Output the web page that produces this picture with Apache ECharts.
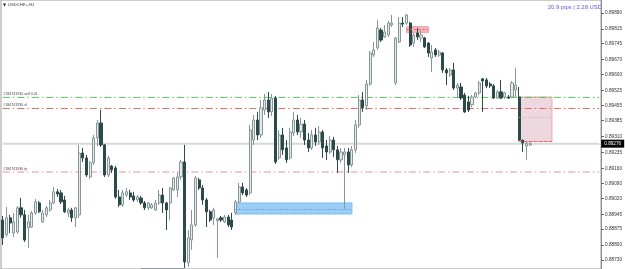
<!DOCTYPE html>
<html>
<head>
<meta charset="utf-8">
<script src="https://cdn.jsdelivr.net/npm/echarts@6/dist/echarts.min.js"></script>
<style>
  html, body { margin: 0; padding: 0; background: #fff; }
  #chart { width: 625px; height: 269px; }
</style>
</head>
<body>
<div id="chart"></div>
<script>
// USDCHF+ H1, values
const symbolTitle = 'USDCHF+,H1'
const resultText = '20.9 pips | 2.28 USD'
const slotCount = 165 // bars + empty shift space on the right
const categories = Array.from({ length: slotCount }, (_, i) => 'bar ' + (i + 1))

const opens = [
  0.88918, 0.88848, 0.88928, 0.88857, 0.88862, 0.88975, 0.88942, 0.88881, 0.88885, 0.88951,
  0.88998, 0.88909, 0.88942, 0.88965, 0.88998, 0.89050, 0.89045, 0.89012, 0.88951, 0.88965,
  0.88928, 0.88942, 0.89232, 0.89209, 0.89120, 0.89186, 0.89303, 0.89373, 0.89270, 0.89129,
  0.89171, 0.89162, 0.89026, 0.88989, 0.89035, 0.89045, 0.89031, 0.89012, 0.89021, 0.88998,
  0.88975, 0.88975, 0.88965, 0.88998, 0.89035, 0.88998, 0.88998, 0.89059, 0.89059, 0.89120,
  0.89190, 0.88717, 0.88824, 0.88895, 0.89106, 0.89068, 0.89012, 0.88956, 0.88928, 0.88914,
  0.88928, 0.88909, 0.88932, 0.88918, 0.88951, 0.89003, 0.89073, 0.89059, 0.89045, 0.89293,
  0.89387, 0.89317, 0.89434, 0.89481, 0.89425, 0.89490, 0.89209, 0.89317, 0.89256, 0.89209,
  0.89326, 0.89387, 0.89331, 0.89368, 0.89293, 0.89256, 0.89317, 0.89284, 0.89331, 0.89265,
  0.89237, 0.89293, 0.89247, 0.89200, 0.89223, 0.89237, 0.89176, 0.89247, 0.89364, 0.89481,
  0.89453, 0.89556, 0.89692, 0.89725, 0.89809, 0.89777, 0.89786, 0.89833, 0.89561, 0.89753,
  0.89842, 0.89842, 0.89842, 0.89748, 0.89795, 0.89772, 0.89772, 0.89748, 0.89678, 0.89716,
  0.89692, 0.89701, 0.89622, 0.89598, 0.89622, 0.89537, 0.89542, 0.89504, 0.89472, 0.89458,
  0.89495, 0.89514, 0.89580, 0.89575, 0.89556, 0.89547, 0.89490, 0.89519, 0.89495, 0.89495,
  0.89495, 0.89528, 0.89495, 0.89293, 0.89265, 0.89270
]
const closes = [
  0.88834, 0.88928, 0.88904, 0.88909, 0.88975, 0.88942, 0.88824, 0.88909, 0.88951, 0.89003,
  0.88956, 0.88951, 0.88975, 0.88998, 0.89050, 0.89040, 0.89003, 0.88956, 0.88965, 0.88928,
  0.88975, 0.89232, 0.89209, 0.89129, 0.89186, 0.89303, 0.89373, 0.89270, 0.89129, 0.89209,
  0.89153, 0.89026, 0.88989, 0.89045, 0.89050, 0.89026, 0.89012, 0.89026, 0.88998, 0.88975,
  0.88998, 0.88989, 0.88998, 0.89035, 0.88998, 0.88965, 0.89068, 0.89115, 0.89120, 0.89190,
  0.88721, 0.88834, 0.88895, 0.89115, 0.89068, 0.89012, 0.88956, 0.88918, 0.88965, 0.88923,
  0.88918, 0.88932, 0.88895, 0.88885, 0.89003, 0.89073, 0.89045, 0.89035, 0.89340, 0.89387,
  0.89317, 0.89444, 0.89481, 0.89425, 0.89490, 0.89190, 0.89317, 0.89247, 0.89200, 0.89331,
  0.89387, 0.89331, 0.89368, 0.89293, 0.89256, 0.89317, 0.89284, 0.89331, 0.89256, 0.89237,
  0.89293, 0.89247, 0.89200, 0.89237, 0.89237, 0.89176, 0.89247, 0.89364, 0.89481, 0.89444,
  0.89556, 0.89701, 0.89716, 0.89819, 0.89762, 0.89800, 0.89842, 0.89842, 0.89772, 0.89842,
  0.89837, 0.89880, 0.89739, 0.89786, 0.89777, 0.89786, 0.89730, 0.89701, 0.89706, 0.89692,
  0.89706, 0.89622, 0.89608, 0.89622, 0.89537, 0.89551, 0.89490, 0.89425, 0.89434, 0.89495,
  0.89514, 0.89561, 0.89570, 0.89547, 0.89547, 0.89490, 0.89519, 0.89490, 0.89514, 0.89490,
  0.89561, 0.89551, 0.89293, 0.89279, 0.89279, 0.89276
]
const lows = [
  0.88801, 0.88839, 0.88857, 0.88839, 0.88853, 0.88928, 0.88815, 0.88787, 0.88881, 0.88942,
  0.88951, 0.88904, 0.88932, 0.88956, 0.88993, 0.89026, 0.88993, 0.88951, 0.88932, 0.88909,
  0.88885, 0.88928, 0.89190, 0.89120, 0.89111, 0.89176, 0.89265, 0.89261, 0.89120, 0.89120,
  0.89139, 0.89017, 0.88979, 0.88979, 0.89026, 0.89012, 0.89003, 0.89003, 0.88989, 0.88965,
  0.88965, 0.88970, 0.88960, 0.88989, 0.88951, 0.88871, 0.88918, 0.89054, 0.89026, 0.89106,
  0.88693, 0.88698, 0.88778, 0.88885, 0.89059, 0.88989, 0.88885, 0.88909, 0.88895, 0.88740,
  0.88909, 0.88904, 0.88885, 0.88871, 0.88942, 0.88998, 0.89035, 0.89026, 0.89035, 0.89270,
  0.89293, 0.89303, 0.89411, 0.89397, 0.89406, 0.89181, 0.89200, 0.89223, 0.89186, 0.89200,
  0.89312, 0.89317, 0.89303, 0.89270, 0.89237, 0.89247, 0.89265, 0.89270, 0.89209, 0.89200,
  0.89228, 0.89214, 0.89139, 0.89186, 0.88970, 0.89139, 0.89167, 0.89232, 0.89350, 0.89425,
  0.89434, 0.89547, 0.89683, 0.89716, 0.89753, 0.89772, 0.89777, 0.89823, 0.89551, 0.89748,
  0.89823, 0.89833, 0.89730, 0.89730, 0.89762, 0.89753, 0.89725, 0.89683, 0.89612, 0.89683,
  0.89683, 0.89608, 0.89551, 0.89589, 0.89528, 0.89490, 0.89481, 0.89420, 0.89425, 0.89448,
  0.89490, 0.89504, 0.89425, 0.89537, 0.89537, 0.89486, 0.89486, 0.89486, 0.89486, 0.89486,
  0.89490, 0.89495, 0.89289, 0.89237, 0.89200, 0.89265
]
const highs = [
  0.88937, 0.88979, 0.88942, 0.88951, 0.88984, 0.89021, 0.88965, 0.88942, 0.88960, 0.89017,
  0.89007, 0.88965, 0.88984, 0.89012, 0.89073, 0.89064, 0.89059, 0.89031, 0.88975, 0.88975,
  0.88979, 0.89270, 0.89256, 0.89223, 0.89195, 0.89317, 0.89387, 0.89434, 0.89275, 0.89218,
  0.89176, 0.89171, 0.89059, 0.89059, 0.89068, 0.89059, 0.89050, 0.89035, 0.89031, 0.89007,
  0.89003, 0.88998, 0.89012, 0.89059, 0.89068, 0.89003, 0.89073, 0.89120, 0.89139, 0.89200,
  0.89270, 0.88871, 0.88965, 0.89125, 0.89115, 0.89082, 0.89021, 0.88965, 0.88975, 0.88928,
  0.88937, 0.88942, 0.88942, 0.88951, 0.89012, 0.89092, 0.89092, 0.89068, 0.89364, 0.89411,
  0.89425, 0.89481, 0.89509, 0.89519, 0.89509, 0.89500, 0.89340, 0.89350, 0.89293, 0.89350,
  0.89425, 0.89411, 0.89397, 0.89387, 0.89326, 0.89340, 0.89350, 0.89359, 0.89340, 0.89293,
  0.89312, 0.89308, 0.89265, 0.89256, 0.89256, 0.89256, 0.89265, 0.89387, 0.89504, 0.89519,
  0.89575, 0.89711, 0.89753, 0.89856, 0.89819, 0.89833, 0.89852, 0.89880, 0.89777, 0.89870,
  0.89870, 0.89884, 0.89847, 0.89795, 0.89819, 0.89809, 0.89777, 0.89753, 0.89739, 0.89725,
  0.89716, 0.89706, 0.89631, 0.89631, 0.89655, 0.89561, 0.89561, 0.89514, 0.89500, 0.89504,
  0.89519, 0.89570, 0.89584, 0.89584, 0.89565, 0.89556, 0.89528, 0.89575, 0.89519, 0.89504,
  0.89570, 0.89631, 0.89542, 0.89293, 0.89284, 0.89284
]

// price scale labels on the right (MT4 style, not evenly rounded)
const tickLabels = [
  0.89890, 0.89815, 0.89745, 0.89670, 0.89600, 0.89525, 0.89455, 0.89385, 0.89310,
  0.89235, 0.89160, 0.89090, 0.89020, 0.88945, 0.88875, 0.88800, 0.88730
]
const priceMin = 0.88688
const priceMax = 0.89950
const currentPrice = 0.89276

// order lines: entry / stop loss / take profit
const orderNames = ['#184741930 sell 0.01', '#184741930 sl', '#184741930 tp']
const orderPrices = [0.89493, 0.89441, 0.89143]

// drawn zones: [from bar, to bar, top price, bottom price, middle price]
const tradeZone = [142, 151, 0.89495, 0.89286, 0.89401]
const redZone = [111, 117, 0.89825, 0.89797, 0.89811]
const blueZone = [64, 96, 0.88998, 0.88946, 0.88970]
const lowSegment = [38, 50, 0.88693]

const candles = opens.map((o, i) => [o, closes[i], lows[i], highs[i]])

const chart = echarts.init(document.getElementById('chart'))

const FONT = 'Liberation Sans'
const dashDot = [7, 3, 1.5, 3]
const orderColors = ['#52c552', '#e86464', '#f08c8c']

// one flat line series per price level (label only on the first point)
function levelSeries(price, color, type, width, label, extra) {
  return Object.assign({
    type: 'line',
    z: 1,
    silent: true,
    symbol: 'circle',
    symbolSize: 1,
    showSymbol: true,
    showAllSymbol: true,
    itemStyle: { color: 'rgba(0,0,0,0)' },
    color: color,
    lineStyle: { color: color, type: type, width: width },
    emphasis: { disabled: true },
    data: categories.map((c, i) => (i === 0 && label ? { value: price, label: label } : price)),
  }, extra || {})
}

function segment(from, to, price, color, type) {
  return [
    { coord: [categories[from], price], lineStyle: { color: color, type: type, width: 1 } },
    { coord: [categories[to], price] },
  ]
}

function zone(z, fill, border) {
  return [
    { xAxis: categories[z[0]], yAxis: z[2], itemStyle: { color: fill, borderColor: border, borderWidth: 1 } },
    { xAxis: categories[z[1]], yAxis: z[3] },
  ]
}

var option = {
  animation: false,
  backgroundColor: '#ffffff',
  grid: {
    left: 1,
    right: 21,
    top: 0,
    bottom: 0,
    show: true,
    borderColor: '#9a9a9a',
    borderWidth: 1,
  },
  xAxis: {
    type: 'category',
    data: categories,
    boundaryGap: true,
    axisLine: { show: false },
    axisTick: { show: false },
    axisLabel: { show: false },
    splitLine: { show: false },
  },
  yAxis: {
    type: 'value',
    position: 'right',
    min: priceMin,
    max: priceMax,
    axisLine: { show: true, lineStyle: { color: '#8c8c8c' } },
    axisTick: { show: true, customValues: tickLabels, length: 3, lineStyle: { color: '#666' } },
    axisLabel: {
      customValues: tickLabels,
      formatter: (v) => v.toFixed(5),
      fontSize: 4.7,
      color: '#333',
      fontFamily: FONT,
      margin: 4,
    },
    splitLine: { show: false },
  },
  graphic: [
    {
      type: 'text',
      left: 3,
      top: 3,
      style: { text: '▼', fontSize: 4, fill: '#222', fontFamily: 'DejaVu Sans' },
    },
    {
      type: 'text',
      left: 8,
      top: 2.5,
      style: { text: symbolTitle, fontSize: 4.2, fill: '#333', fontFamily: FONT },
    },
    {
      type: 'text',
      right: 23,
      top: 4,
      style: { text: resultText, fontSize: 5.9, fill: '#5a5af2', fontFamily: FONT },
    },
  ],
  series: [
    levelSeries(currentPrice, '#d8d8d8', 'solid', 2, null, {
      showSymbol: false,
      endLabel: {
        show: true,
        distance: 2,
        formatter: () => currentPrice.toFixed(5),
        backgroundColor: '#000',
        color: '#fff',
        fontSize: 4.7,
        fontFamily: FONT,
        padding: [2, 3, 1, 3],
      },
    }),
    ...orderPrices.map((p, i) =>
      levelSeries(p, orderColors[i], dashDot, 1, {
        show: true,
        position: [1, -5],
        align: 'left',
        verticalAlign: 'top',
        formatter: orderNames[i],
        fontSize: 3.6,
        color: '#444',
        fontFamily: FONT,
      })
    ),
    {
      type: 'candlestick',
      data: candles,
      z: 2,
      barWidth: 2.6,
      itemStyle: {
        color: '#e6eaea',
        color0: '#2d4a4a',
        borderColor: '#869696',
        borderColor0: '#2d4a4a',
        borderWidth: 1,
      },
      markArea: {
        silent: true,
        data: [
          zone(tradeZone, 'rgba(214,168,184,0.45)', '#eea3ad'),
          zone(redZone, 'rgba(246,150,158,0.7)', '#f2a0a6'),
          zone(blueZone, 'rgba(120,190,245,0.75)', '#7fbde9'),
        ],
      },
      markLine: {
        silent: true,
        symbol: 'none',
        precision: 5,
        label: { show: false },
        data: [
          segment(tradeZone[0], tradeZone[1], tradeZone[3], '#ef5f6a', [3, 2]),
          segment(tradeZone[0], tradeZone[1], tradeZone[4], '#e79aa5', [1, 2]),
          segment(redZone[0], redZone[1], redZone[4], '#e46a74', [2, 2]),
          segment(blueZone[0], blueZone[1], blueZone[4], '#4f86b8', [1, 2]),
          segment(lowSegment[0], lowSegment[1], lowSegment[2], '#8f9999', 'solid'),
        ],
      },
    },
  ],
}
chart.setOption(option)
</script>
</body>
</html>
